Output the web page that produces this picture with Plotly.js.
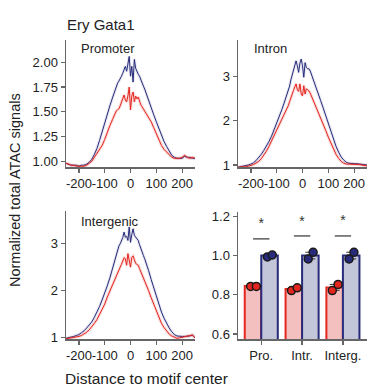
<!DOCTYPE html>
<html>
<head>
<meta charset="utf-8">
<script src="https://cdn.plot.ly/plotly-3.0.1.min.js"></script>
<style>html,body{margin:0;padding:0;background:#fff;}#chart{width:367px;height:387px;}</style>
</head>
<body>
<div id="chart"></div>
<script>
// ---------- DATA ----------
const xpos = [-250,-240,-230,-220,-210,-200,-190,-180,-170,-160,-150,-140,-130,-120,-110,-100,-90,-80,-70,-60,
  -55,-50,-45,-40,-35,-30,-25,-20,-15,-10,-5,0,5,10,15,20,25,30,35,40,45,50,55,
  60,70,80,90,100,110,120,130,140,150,160,170,180,190,200,210,220,230,240,250];

const proBlue = [0.98,0.97,0.96,0.96,0.96,0.95,0.96,0.96,0.97,0.99,1.02,1.07,1.13,1.21,1.30,1.40,1.48,1.56,1.64,1.72,
  1.75,1.79,1.81,1.83,1.86,1.89,1.92,1.96,1.91,1.97,2.06,1.86,1.96,1.80,2.03,1.94,1.90,1.88,1.86,1.82,1.79,1.76,1.73,
  1.69,1.61,1.54,1.47,1.40,1.33,1.26,1.20,1.15,1.10,1.06,1.04,1.03,1.03,1.03,1.05,1.04,1.04,1.03,1.03];
const proRed = [0.98,0.97,0.96,0.96,0.95,0.95,0.95,0.95,0.96,0.98,1.00,1.04,1.08,1.12,1.16,1.22,1.30,1.36,1.42,1.48,
  1.51,1.52,1.53,1.56,1.60,1.64,1.67,1.62,1.60,1.66,1.75,1.52,1.66,1.70,1.60,1.66,1.63,1.65,1.60,1.57,1.55,1.53,1.51,
  1.49,1.45,1.40,1.34,1.28,1.22,1.16,1.12,1.09,1.07,1.04,1.03,1.03,1.03,1.04,1.06,1.04,1.03,1.04,1.03];

const intrBlue = [0.95,0.96,0.97,0.98,1.00,1.02,1.05,1.10,1.16,1.24,1.33,1.42,1.53,1.65,1.79,1.93,2.08,2.25,2.42,2.60,
  2.68,2.78,2.92,3.02,3.15,3.26,3.35,3.24,3.09,3.30,3.39,3.24,2.98,3.31,3.20,3.17,3.17,3.12,3.04,2.97,2.88,2.80,2.72,
  2.66,2.46,2.29,2.11,1.93,1.74,1.57,1.42,1.29,1.18,1.11,1.06,1.04,1.03,1.03,1.03,1.02,1.02,1.01,1.00];
const intrRed = [0.95,0.96,0.96,0.96,0.97,0.99,1.01,1.04,1.08,1.14,1.22,1.31,1.42,1.54,1.66,1.78,1.89,2.03,2.16,2.28,
  2.34,2.43,2.53,2.60,2.68,2.76,2.83,2.70,2.66,2.83,2.60,2.56,2.79,2.60,2.72,2.69,2.67,2.62,2.55,2.48,2.42,2.36,2.30,
  2.24,2.10,1.93,1.78,1.63,1.49,1.36,1.24,1.15,1.08,1.04,1.02,1.02,1.02,1.02,1.02,1.01,1.00,0.99,0.98];

const intgBlue = [0.98,0.99,1.00,1.02,1.04,1.06,1.10,1.14,1.20,1.26,1.33,1.43,1.53,1.66,1.80,1.94,2.10,2.27,2.47,2.68,
  2.77,2.86,2.95,3.00,3.06,3.13,3.25,3.14,3.16,3.07,3.36,3.03,3.20,3.32,3.18,3.14,3.10,3.07,2.98,2.89,2.82,2.75,2.68,
  2.61,2.43,2.24,2.06,1.88,1.70,1.54,1.41,1.30,1.20,1.12,1.06,1.03,1.02,1.02,1.02,1.02,1.03,1.05,0.99];
const intgRed = [0.97,0.98,0.99,0.99,1.00,1.02,1.04,1.07,1.11,1.16,1.22,1.30,1.38,1.48,1.58,1.71,1.86,1.99,2.13,2.28,
  2.34,2.40,2.45,2.50,2.56,2.62,2.70,2.68,2.54,2.79,2.62,2.50,2.71,2.74,2.66,2.58,2.56,2.54,2.47,2.39,2.33,2.27,2.20,
  2.14,2.00,1.85,1.71,1.56,1.42,1.30,1.21,1.13,1.07,1.03,1.00,0.98,0.99,1.00,1.01,1.02,1.04,1.05,0.99];

const xTickVals = [-200,-100,0,100,200];
const xTickText = ['-200','-100','0','100','200'];

const barCats = ['Pro.','Intr.','Interg.'];
const redMean = [0.845,0.830,0.838];
const blueMean = [1.000,1.000,1.000];
const redErr = [0.003,0.007,0.015];
const blueErr = [0.005,0.017,0.017];
const redRep1 = [0.843,0.822,0.822];
const redRep2 = [0.843,0.836,0.853];
const blueRep1 = [0.993,0.983,0.983];
const blueRep2 = [1.003,1.017,1.017];
const sigY = [1.085,1.100,1.100];
const starY = [1.160,1.170,1.175];

// ---------- STYLE ----------
const BLUE = '#272b7a', RED = '#e3261f';
const FONT = 'Liberation Sans, Arial, sans-serif';
const TXT = '#222';
const AX = '#666';
const W = 367, H = 387;
const px = v => v / W, py = v => 1 - v / H;

const traces = [];
function curve(y, color, xa, ya, bandOp) {
  traces.push({x: xpos, y: y, xaxis: xa, yaxis: ya, mode: 'lines', type: 'scatter',
    line: {color: color, width: 3}, opacity: bandOp, hoverinfo: 'skip', showlegend: false});
  traces.push({x: xpos, y: y, xaxis: xa, yaxis: ya, mode: 'lines', type: 'scatter',
    line: {color: color, width: 1}, showlegend: false});
}
curve(proBlue, BLUE, 'x', 'y', 0.12);
curve(proRed, RED, 'x', 'y', 0.18);
curve(intrBlue, BLUE, 'x2', 'y2', 0.12);
curve(intrRed, RED, 'x2', 'y2', 0.18);
curve(intgBlue, BLUE, 'x3', 'y3', 0.12);
curve(intgRed, RED, 'x3', 'y3', 0.18);

const idx = barCats.map((c, i) => i);
const BW = 0.405;
traces.push({type: 'bar', x: idx, y: redMean, xaxis: 'x4', yaxis: 'y4', width: BW, offset: -BW,
  marker: {color: '#f3c0bf', line: {color: RED, width: 2}},
  error_y: {type: 'data', array: redErr, color: '#333', thickness: 1, width: 5}, showlegend: false});
traces.push({type: 'bar', x: idx, y: blueMean, xaxis: 'x4', yaxis: 'y4', width: BW, offset: 0,
  marker: {color: '#c3c5d9', line: {color: BLUE, width: 2}},
  error_y: {type: 'data', array: blueErr, color: '#333', thickness: 1, width: 5}, showlegend: false});

function dots(vals, off, fill) {
  traces.push({type: 'scatter', mode: 'markers', xaxis: 'x4', yaxis: 'y4',
    x: idx.map(i => i + off), y: vals,
    marker: {size: 8, color: fill, line: {color: '#1a1a1a', width: 1.5}}, showlegend: false});
}
dots(redRep1, -0.26, RED);
dots(redRep2, -0.12, RED);
dots(blueRep1, 0.15, BLUE);
dots(blueRep2, 0.27, BLUE);

// significance lines and stars
const sx = [], sy = [];
idx.forEach(i => { sx.push(i - 0.2, i + 0.2, null); sy.push(sigY[i], sigY[i], null); });
traces.push({type: 'scatter', mode: 'lines', x: sx, y: sy, xaxis: 'x4', yaxis: 'y4',
  line: {color: '#333', width: 1.2}, showlegend: false});
traces.push({type: 'scatter', mode: 'text', x: idx, y: starY, text: idx.map(() => '*'),
  xaxis: 'x4', yaxis: 'y4', textfont: {size: 14, color: '#333', family: FONT}, showlegend: false});

const baseAx = {showline: true, linecolor: AX, linewidth: 1.5, ticks: 'outside', ticklen: 4,
  tickcolor: AX, tickwidth: 1.2, showgrid: false, zeroline: false, tickangle: 0,
  tickfont: {size: 13, color: TXT, family: FONT}};
const lx = d => Object.assign({}, baseAx, {domain: d, range: [-250, 250], tickvals: xTickVals, ticktext: xTickText});

const layout = {
  width: W, height: H, margin: {l: 0, r: 0, t: 0, b: 0},
  paper_bgcolor: '#fff', plot_bgcolor: '#fff', showlegend: false,
  font: {family: FONT, color: TXT},
  xaxis: Object.assign(lx([px(66), px(195)]), {anchor: 'y'}),
  yaxis: Object.assign({}, baseAx, {domain: [py(167), py(40)], anchor: 'x', range: [0.942, 2.226],
    tickvals: [1, 1.25, 1.5, 1.75, 2], tickformat: '.2f'}),
  xaxis2: Object.assign(lx([px(238), 1]), {anchor: 'y2'}),
  yaxis2: Object.assign({}, baseAx, {domain: [py(167), py(40)], anchor: 'x2', range: [0.955, 3.82],
    tickvals: [1, 2, 3]}),
  xaxis3: Object.assign(lx([px(66), px(195)]), {anchor: 'y3'}),
  yaxis3: Object.assign({}, baseAx, {domain: [py(339), py(211)], anchor: 'x3', range: [0.965, 3.70],
    tickvals: [1, 2, 3]}),
  xaxis4: Object.assign({}, baseAx, {domain: [px(238), 1], anchor: 'y4', range: [-0.57, 2.59],
    tickvals: idx, ticktext: barCats}),
  yaxis4: Object.assign({}, baseAx, {domain: [py(339), py(212)], anchor: 'x4', range: [0.575, 1.222],
    tickvals: [0.6, 0.8, 1.0, 1.2], tickformat: '.1f'}),
  annotations: [
    {text: 'Ery Gata1', x: px(65), y: py(25), xref: 'paper', yref: 'paper', xanchor: 'left', yanchor: 'middle',
      showarrow: false, font: {size: 15, color: TXT, family: FONT}},
    {text: 'Promoter', x: px(108), y: py(49), xref: 'paper', yref: 'paper', xanchor: 'center', yanchor: 'middle',
      showarrow: false, font: {size: 13, color: TXT, family: FONT}},
    {text: 'Intron', x: px(270), y: py(49), xref: 'paper', yref: 'paper', xanchor: 'center', yanchor: 'middle',
      showarrow: false, font: {size: 13, color: TXT, family: FONT}},
    {text: 'Intergenic', x: px(110), y: py(221), xref: 'paper', yref: 'paper', xanchor: 'center', yanchor: 'middle',
      showarrow: false, font: {size: 13, color: TXT, family: FONT}},
    {text: 'Normalized total ATAC signals', x: px(15), y: py(190), xref: 'paper', yref: 'paper',
      xanchor: 'center', yanchor: 'middle', textangle: -90,
      showarrow: false, font: {size: 14.5, color: TXT, family: FONT}},
    {text: 'Distance to motif center', x: px(146), y: py(378), xref: 'paper', yref: 'paper',
      xanchor: 'center', yanchor: 'middle', showarrow: false, font: {size: 15.5, color: TXT, family: FONT}}
  ]
};

Plotly.newPlot('chart', traces, layout, {staticPlot: true, displayModeBar: false});
</script>
</body>
</html>
